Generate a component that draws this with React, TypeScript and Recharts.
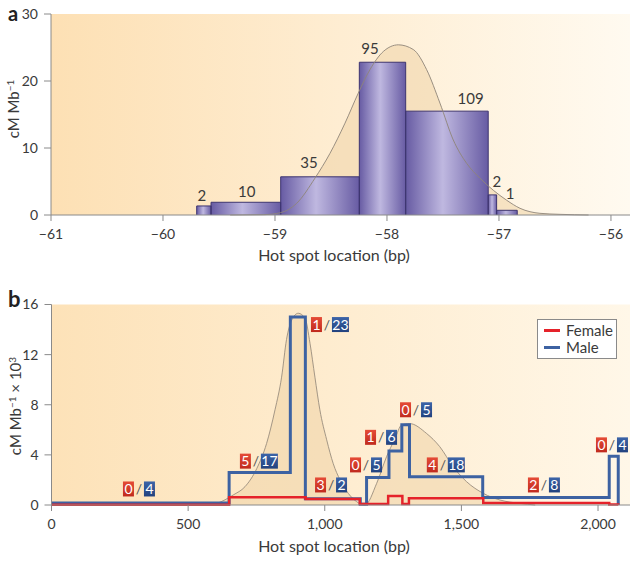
import React from "react";
import {
  Area,
  CartesianGrid,
  ComposedChart,
  Label,
  Line,
  ReferenceDot,
  XAxis,
  YAxis,
} from "recharts";

// panel a: histogram of hot spot locations
const binEdges = [-59.699, -59.571, -58.949, -58.247, -57.833, -57.096, -57.021, -56.837];
const binHeights = [1.35, 1.9, 5.7, 22.8, 15.5, 3.0, 0.7];
const binCounts = ["2", "10", "35", "95", "109", "2", "1"];
const binLabelX = [-59.654, -59.253, -58.696, -58.152, -57.253, -57.02, -56.9];
const binLabelY = [2.9, 3.5, 7.7, 24.8, 17.3, 5.0, 3.2];
const curveAX = [-59.4, -59.1, -58.95, -58.806, -58.643, -58.509, -58.375, -58.256, -58.152, -58.033, -57.899, -57.765, -57.646, -57.527, -57.408, -57.288, -57.17, -57.051, -56.931, -56.812, -56.634, -56.455, -56.2];
const curveAY = [0, 0.05, 0.35, 1.75, 5.5, 9.2, 13.7, 18.2, 21.7, 24.4, 25.4, 24.7, 21.7, 16.7, 11.2, 7.7, 5.5, 3.7, 2.2, 1.0, 0.25, 0.1, 0];
const ticksA = [-61, -60, -59, -58, -57, -56];
const yTicksA = [0, 10, 20, 30];

// panel b: female / male rates
const maleX = [0, 650, 874, 929, 1130, 1153, 1235, 1282, 1310, 1578, 2041, 2074];
const maleY = [0.15, 2.6, 15, 0.5, 0.06, 2.2, 4.3, 6.4, 2.25, 0.6, 3.9, 0];
const femaleX = [0, 650, 930, 1128, 1232, 1284, 1308, 1580, 2041, 2074];
const femaleY = [0.02, 0.62, 0.48, 0.08, 0.72, 0.08, 0.53, 0.16, 0.03, 0];
const curveBX = [580, 605, 665, 708, 751, 787, 818, 842, 860, 879, 903, 928, 946, 964, 982, 1007, 1031, 1056, 1086, 1117, 1140, 1147, 1190, 1226, 1257, 1281, 1310, 1373, 1421, 1470, 1519, 1580, 1641, 1714, 1770];
const curveBY = [0, 0.13, 0.8, 1.46, 2.9, 4.9, 7.6, 10.2, 13.2, 14.75, 15.3, 14.9, 12.9, 10.2, 7.6, 5.2, 3.3, 2.0, 0.93, 0.26, 0.02, 0, 1.73, 3.85, 5.3, 6.38, 6.5, 5.7, 4.65, 3.05, 1.86, 0.93, 0.4, 0.13, 0];
const badgeX = [320, 759, 1019, 1023, 1151, 1206, 1334, 1443, 1802, 2051];
const badgeY = [1.28, 3.5, 14.4, 1.6, 3.2, 5.4, 7.6, 3.2, 1.6, 4.8];
const badgeFemale = ["0", "5", "1", "3", "0", "1", "0", "4", "2", "0"];
const badgeMale = ["4", "17", "23", "2", "5", "6", "5", "18", "8", "4"];
const ticksB = [0, 500, 1000, 1500, 2000];
const yTicksB = [0, 4, 8, 12, 16];

const FONT = "Lato, 'Open Sans', sans-serif";
const AXIS = "#8a8a8a";
const TEXT = "#3a3a3a";
const tickStyle = { fill: TEXT, fontSize: 14, fontFamily: FONT };

const curveA = curveAX.map((x, i) => ({ x, y: curveAY[i] }));
const curveB = curveBX.map((x, i) => ({ x, y: curveBY[i] }));
const male = maleX.map((x, i) => ({ x, y: maleY[i] }));
const female = femaleX.map((x, i) => ({ x, y: femaleY[i] }));

const fmtA = (v: number) => (v < 0 ? `\u2212${Math.abs(v)}` : `${v}`);
const fmtB = (v: number) => v.toLocaleString("en-US");

function Badge({ cx, cy, f, m }: { cx: number; cy: number; f: string; m: string }) {
  const wf = f.length > 1 ? 17 : 11;
  const wm = m.length > 1 ? 17 : 11;
  const gap = 10;
  const left = cx - (wf + gap + wm) / 2;
  const h = 15;
  return (
    <g fontFamily={FONT} fontSize={14}>
      <rect x={left} y={cy - h / 2} width={wf} height={h} fill="url(#redBox)" />
      <text x={left + wf / 2} y={cy + 5} textAnchor="middle" fill="#fff">{f}</text>
      <text x={left + wf + gap / 2} y={cy + 5} textAnchor="middle" fill="#555">/</text>
      <rect x={left + wf + gap} y={cy - h / 2} width={wm} height={h} fill="url(#blueBox)" />
      <text x={left + wf + gap + wm / 2} y={cy + 5} textAnchor="middle" fill="#fff">{m}</text>
    </g>
  );
}

function PanelA() {
  return (
    <ComposedChart width={638} height={270} margin={{ top: 14, right: 8, left: 0, bottom: 0 }}>
      <defs>
        <linearGradient id="bgA" x1="0" x2="1" y1="0" y2="0">
          <stop offset="0%" stopColor="#fde0b4" />
          <stop offset="100%" stopColor="#fffaf0" />
        </linearGradient>
        <linearGradient id="barGrad" x1="0" x2="1" y1="0" y2="0">
          <stop offset="0%" stopColor="#675ba3" />
          <stop offset="45%" stopColor="#bfb8e0" />
          <stop offset="100%" stopColor="#675ba3" />
        </linearGradient>
      </defs>
      <CartesianGrid fill="url(#bgA)" horizontal={false} vertical={false} />
      <XAxis
        type="number"
        dataKey="x"
        domain={[-61, -55.83]}
        ticks={ticksA}
        tickFormatter={fmtA}
        height={55}
        tickSize={6}
        tickMargin={8}
        stroke={AXIS}
        tick={tickStyle}
        allowDataOverflow
      >
        <Label
          content={() => (
            <text x={334} y={261} textAnchor="middle" fill={TEXT} fontSize={16} fontFamily={FONT}>
              Hot spot location (bp)
            </text>
          )}
        />
      </XAxis>
      <YAxis
        type="number"
        domain={[0, 30]}
        ticks={yTicksA}
        width={51}
        tickSize={7}
        tickMargin={6}
        stroke={AXIS}
        tick={tickStyle}
      >
        <Label
          content={() => (
            <text transform="translate(19,109) rotate(-90)" textAnchor="middle" fill={TEXT} fontSize={15} fontFamily={FONT}>
              cM Mb<tspan dy={-5} fontSize={10}>{"\u22121"}</tspan>
            </text>
          )}
        />
      </YAxis>
      <Area
        data={curveA}
        dataKey="y"
        type="monotone"
        stroke="none"
        fill="#efd3a8"
        fillOpacity={0.55}
        isAnimationActive={false}
      />
      {binHeights.map((h, i) => (
        <Area
          key={`bf${i}`}
          data={[{ x: binEdges[i], y: h }, { x: binEdges[i + 1], y: h }]}
          dataKey="y"
          type="linear"
          stroke="none"
          fill="url(#barGrad)"
          fillOpacity={1}
          isAnimationActive={false}
        />
      ))}
      {binHeights.map((h, i) => (
        <Line
          key={`bo${i}`}
          data={[
            { x: binEdges[i], y: 0 },
            { x: binEdges[i], y: h },
            { x: binEdges[i + 1], y: h },
            { x: binEdges[i + 1], y: 0 },
          ]}
          dataKey="y"
          type="linear"
          stroke="#3d3470"
          strokeWidth={1}
          dot={false}
          isAnimationActive={false}
        />
      ))}
      <Line
        data={curveA}
        dataKey="y"
        type="monotone"
        stroke="#8f8478"
        strokeWidth={0.9}
        dot={false}
        isAnimationActive={false}
      />
      {binCounts.map((c, i) => (
        <ReferenceDot
          key={`bl${i}`}
          x={binLabelX[i]}
          y={binLabelY[i]}
          r={1}
          ifOverflow="visible"
          shape={(p: any) => (
            <text x={p.cx} y={p.cy + 5} textAnchor="middle" fill={TEXT} fontSize={15} fontFamily={FONT}>
              {c}
            </text>
          )}
        />
      ))}
    </ComposedChart>
  );
}

function PanelB() {
  return (
    <ComposedChart width={638} height={273} margin={{ top: 14.5, right: 8, left: 0, bottom: 0 }}>
      <defs>
        <linearGradient id="bgB" x1="0" x2="1" y1="0" y2="0">
          <stop offset="0%" stopColor="#fde2b8" />
          <stop offset="100%" stopColor="#fff7e8" />
        </linearGradient>
        <linearGradient id="redBox" x1="0" x2="0" y1="0" y2="1">
          <stop offset="0%" stopColor="#e54b36" />
          <stop offset="100%" stopColor="#c02a1e" />
        </linearGradient>
        <linearGradient id="blueBox" x1="0" x2="0" y1="0" y2="1">
          <stop offset="0%" stopColor="#3c64a8" />
          <stop offset="100%" stopColor="#22427e" />
        </linearGradient>
      </defs>
      <CartesianGrid fill="url(#bgB)" horizontal={false} vertical={false} />
      <XAxis
        type="number"
        dataKey="x"
        domain={[0, 2117]}
        ticks={ticksB}
        tickFormatter={fmtB}
        height={58}
        tickSize={6}
        tickMargin={8}
        stroke={AXIS}
        tick={tickStyle}
        allowDataOverflow
      >
        <Label
          content={() => (
            <text x={334} y={262} textAnchor="middle" fill={TEXT} fontSize={16} fontFamily={FONT}>
              Hot spot location (bp)
            </text>
          )}
        />
      </XAxis>
      <YAxis
        type="number"
        domain={[0, 16]}
        ticks={yTicksB}
        width={51.5}
        tickSize={7}
        tickMargin={6}
        stroke={AXIS}
        tick={tickStyle}
      >
        <Label
          content={() => (
            <text transform="translate(21,116) rotate(-90)" textAnchor="middle" fill={TEXT} fontSize={15} fontFamily={FONT}>
              cM Mb<tspan dy={-5} fontSize={10}>{"\u22121"}</tspan>
              <tspan dy={5}>{" \u00d7 10"}</tspan>
              <tspan dy={-5} fontSize={10}>3</tspan>
            </text>
          )}
        />
      </YAxis>
      <Area
        data={curveB}
        dataKey="y"
        type="monotone"
        stroke="#9a8d7e"
        strokeWidth={0.9}
        fill="#efd3a8"
        fillOpacity={0.55}
        isAnimationActive={false}
      />
      <Line
        data={male}
        dataKey="y"
        type="stepAfter"
        stroke="#3d62a2"
        strokeWidth={3}
        dot={false}
        isAnimationActive={false}
      />
      <Line
        data={female}
        dataKey="y"
        type="stepAfter"
        stroke="#e5222a"
        strokeWidth={2.5}
        dot={false}
        isAnimationActive={false}
      />
      {badgeX.map((x, i) => (
        <ReferenceDot
          key={`bd${i}`}
          x={x}
          y={badgeY[i]}
          r={1}
          ifOverflow="visible"
          shape={(p: any) => <Badge cx={p.cx} cy={p.cy} f={badgeFemale[i]} m={badgeMale[i]} />}
        />
      ))}
    </ComposedChart>
  );
}

export default function App() {
  return (
    <div style={{ position: "absolute", left: 0, top: 0, width: 638, height: 563, background: "#fff", fontFamily: FONT }}>
      <div style={{ position: "absolute", left: 0, top: 0 }}>
        <PanelA />
      </div>
      <div style={{ position: "absolute", left: 0, top: 290 }}>
        <PanelB />
      </div>
      <div style={{ position: "absolute", left: 8, top: 1, fontSize: 20, fontWeight: 700, color: "#222" }}>a</div>
      <div style={{ position: "absolute", left: 8, top: 285, fontSize: 22, fontWeight: 700, color: "#222" }}>b</div>
      <div
        style={{
          position: "absolute",
          left: 537,
          top: 319,
          width: 80,
          height: 40,
          background: "#fff",
          border: "1px solid #8a8a8a",
          fontSize: 15,
          color: TEXT,
          lineHeight: "17px",
          paddingTop: 2,
          boxSizing: "border-box",
        }}
      >
        {[
          { name: "Female", color: "#e5222a" },
          { name: "Male", color: "#3d62a2" },
        ].map((d) => (
          <div key={d.name} style={{ display: "flex", alignItems: "center", height: 17 }}>
            <span style={{ display: "inline-block", width: 16, height: 2.5, background: d.color, marginLeft: 6, marginRight: 6 }} />
            {d.name}
          </div>
        ))}
      </div>
    </div>
  );
}
